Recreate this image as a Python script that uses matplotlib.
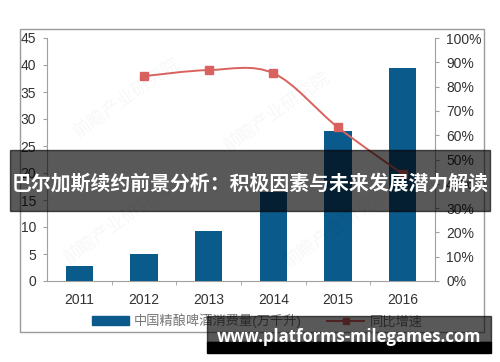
import numpy as np
import matplotlib
matplotlib.use("Agg")
from matplotlib import pyplot as plt
from matplotlib.path import Path
from matplotlib.patches import PathPatch, Rectangle
from matplotlib.lines import Line2D
from matplotlib.patches import Patch
from matplotlib.ticker import PercentFormatter

plt.rcParams["font.family"] = ["Liberation Sans", "Noto Sans CJK SC", "DejaVu Sans"]

years = ["2011", "2012", "2013", "2014", "2015", "2016"]
consumption = [2.7, 5.0, 9.2, 16.5, 27.8, 39.5]  # 万千升
growth_years = ["2012", "2013", "2014", "2015", "2016"]
growth = [0.843, 0.868, 0.855, 0.632, 0.44]

bar_label = "中国精酿啤酒消费量(万千升)"
line_label = "同比增速"
title = "巴尔加斯续约前景分析：积极因素与未来发展潜力解读"
site = "www.platforms-milegames.com"

BLUE = "#0b5a8c"
RED = "#d9625f"
GRAY = "#a0a0a0"
TXT = "#333333"


def smooth_path(xs, ys, k=1 / 6):
    # catmull-rom style bezier through the given points
    xs = np.asarray(xs, float)
    ys = np.asarray(ys, float)
    pts = np.column_stack([xs, ys])
    verts = [pts[0]]
    codes = [Path.MOVETO]
    n = len(pts)
    for i in range(n - 1):
        p0 = pts[max(i - 1, 0)]
        p1 = pts[i]
        p2 = pts[i + 1]
        p3 = pts[min(i + 2, n - 1)]
        c1 = p1 + (p2 - p0) * k
        c2 = p2 - (p3 - p1) * k
        verts += [c1, c2, p2]
        codes += [Path.CURVE4] * 3
    return Path(verts, codes)


fig = plt.figure(figsize=(5, 3.62), dpi=100)
W, H = 500, 362

ax = fig.add_axes([47 / W, 1 - 281 / H, (435 - 47) / W, (281 - 38) / H])
x = np.arange(len(years))
ax.bar(x, consumption, width=0.42, color=BLUE, zorder=3)
ax.set_xlim(-0.5, len(years) - 0.5)
ax.set_ylim(0, 45)
ax.set_yticks(range(0, 50, 5))
ax.set_xticks(x)
ax.set_xticklabels(years)
ax.set_xticks(np.arange(-0.5, len(years), 1)[1:-1], minor=True)
ax.tick_params(axis="x", which="major", length=0, pad=9, labelsize=10, labelcolor=TXT)
ax.tick_params(axis="x", which="minor", length=3, color=GRAY, direction="out")
ax.tick_params(axis="y", length=3, color=GRAY, pad=5, labelsize=10, labelcolor=TXT)
for s in ["left", "bottom"]:
    ax.spines[s].set_color(GRAY)
ax.spines["top"].set_visible(False)
ax.spines["right"].set_visible(False)

ax2 = ax.twinx()
ax2.set_ylim(0, 1)
ax2.set_yticks(np.arange(0, 1.01, 0.1))
ax2.yaxis.set_major_formatter(PercentFormatter(1.0, decimals=0))
ax2.tick_params(axis="y", length=3, color=GRAY, pad=5, labelsize=10, labelcolor=TXT)
ax2.spines["right"].set_color(GRAY)
for s in ["left", "top", "bottom"]:
    ax2.spines[s].set_visible(False)

gx = [years.index(y) for y in growth_years]
ax2.add_patch(PathPatch(smooth_path(gx, growth), fill=False, edgecolor=RED, lw=1.4, zorder=4))
ax2.plot(gx, growth, ls="none", marker="s", ms=6, color=RED, zorder=5)

# faint watermarks
for wx, wy in [(0.14, 0.62), (0.44, 0.58), (0.56, 0.26), (0.12, 0.27)]:
    fig.text(wx, wy, "前瞻产业研究院", fontsize=13, color="#000000", alpha=0.035,
             rotation=35, family=["Noto Sans CJK SC"], zorder=0)

handles = [Patch(color=BLUE),
           Line2D([], [], color=RED, lw=1.4, marker="s", ms=5)]
fig.legend(handles, [bar_label, line_label], loc="center left",
           bbox_to_anchor=(92 / W, 1 - 321 / H), ncol=2, frameon=False,
           handlelength=2.8, handleheight=0.6, handletextpad=0.4, columnspacing=1.9,
           fontsize=9.5, labelcolor="#777777", borderpad=0, borderaxespad=0)

# outer frame
fig.patches.append(Rectangle((20 / W, 1 - 332 / H), (484 - 20) / W, (332 - 29) / H,
                             transform=fig.transFigure, fill=False, edgecolor="#9a9a9a", lw=1))

# title banner
fig.patches.append(Rectangle((10 / W, 1 - 211 / H), 480 / W, 61 / H,
                             transform=fig.transFigure, color="black", alpha=0.65, zorder=10))
fig.text(0.5, 1 - 183 / H, title, ha="center", va="center", color="white", fontsize=14.3,
         fontweight="bold", family=["Noto Sans CJK SC"], zorder=11)

# bottom banner
fig.patches.append(Rectangle((207 / W, 1 - 342 / H), (491 - 207) / W, 26 / H,
                             transform=fig.transFigure, color="black", alpha=0.65, zorder=10))
fig.patches.append(Rectangle((207 / W, 1 - 353 / H), (491 - 207) / W, 11 / H,
                             transform=fig.transFigure, color="black", zorder=10))
fig.text(349 / W, 1 - 342 / H, site, ha="center", va="baseline", color="white", fontsize=12,
         fontweight="bold", family=["Open Sans"], zorder=11)

fig.savefig("out.png", dpi=100)
